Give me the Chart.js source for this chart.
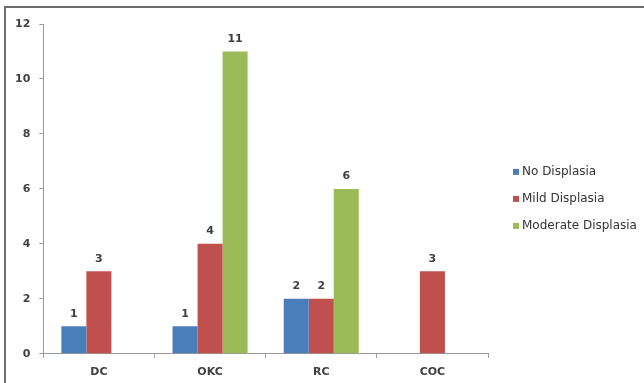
<!DOCTYPE html>
<html>
<head>
<meta charset="utf-8">
<script src="https://cdn.jsdelivr.net/npm/chart.js@4.4.1/dist/chart.umd.min.js"></script>
<style>
  html, body { margin: 0; padding: 0; background: #fff; overflow: hidden; width: 644px; height: 383px; }
  canvas { display: block; }
</style>
</head>
<body>
<canvas id="c" width="644" height="383"></canvas>
<script>
const categories = ["DC", "OKC", "RC", "COC"];
const seriesNames = ["No Displasia", "Mild Displasia", "Moderate Displasia"];
const noDisplasia = [1, 1, 2, null];
const mildDisplasia = [3, 4, 2, 3];
const moderateDisplasia = [null, 11, 6, null];
const yTicks = [0, 2, 4, 6, 8, 10, 12];
const colors = ["#4a7ebb", "#c0504d", "#9bbb59"];

const FONT = "'DejaVu Sans', sans-serif";

const frame = {
  id: "frame",
  beforeDraw(chart) {
    const ctx = chart.ctx;
    ctx.save();
    ctx.strokeStyle = "#6e6e6e";
    ctx.lineWidth = 2;
    ctx.beginPath();
    ctx.moveTo(5, chart.height);
    ctx.lineTo(5, 7);
    ctx.lineTo(chart.width, 7);
    ctx.stroke();
    ctx.restore();
  }
};

const valueLabels = {
  id: "valueLabels",
  afterDatasetsDraw(chart) {
    const ctx = chart.ctx;
    ctx.save();
    ctx.font = "bold 11px " + FONT;
    ctx.fillStyle = "#404040";
    ctx.textAlign = "center";
    ctx.textBaseline = "bottom";
    chart.data.datasets.forEach((ds, i) => {
      const meta = chart.getDatasetMeta(i);
      meta.data.forEach((el, j) => {
        const v = ds.data[j];
        if (v === null || v === undefined) return;
        ctx.fillText(String(v), el.x, el.y - 7);
      });
    });
    ctx.restore();
  }
};

const sideLegend = {
  id: "sideLegend",
  afterDraw(chart) {
    const ctx = chart.ctx;
    const a = chart.chartArea;
    ctx.save();
    ctx.font = "12px " + FONT;
    ctx.textBaseline = "middle";
    ctx.textAlign = "left";
    const x0 = a.right + 25;
    const yc = (a.top + a.bottom) / 2 + 10;
    const step = 27;
    chart.data.datasets.forEach((ds, i) => {
      const y = yc + (i - 1) * step;
      ctx.fillStyle = ds.backgroundColor;
      ctx.fillRect(x0, y - 3, 6, 6);
      ctx.fillStyle = "#333333";
      ctx.fillText(ds.label, x0 + 9, y);
    });
    ctx.restore();
  }
};

new Chart(document.getElementById("c"), {
  type: "bar",
  data: {
    labels: categories,
    datasets: [
      { label: seriesNames[0], data: noDisplasia, backgroundColor: colors[0] },
      { label: seriesNames[1], data: mildDisplasia, backgroundColor: colors[1] },
      { label: seriesNames[2], data: moderateDisplasia, backgroundColor: colors[2] }
    ]
  },
  options: {
    responsive: false,
    animation: false,
    devicePixelRatio: 1,
    layout: { padding: { left: 6, right: 156, top: 24, bottom: -4 } },
    datasets: { bar: { categoryPercentage: 0.675, barPercentage: 1.0 } },
    plugins: { legend: { display: false }, tooltip: { enabled: false } },
    scales: {
      x: {
        offset: true,
        grid: { offset: true, drawOnChartArea: false, drawTicks: true, tickLength: 4, color: "#9a9a9a" },
        border: { color: "#9a9a9a", width: 1 },
        ticks: { font: { family: FONT, size: 11, weight: "bold" }, color: "#404040", padding: 8 }
      },
      y: {
        min: 0, max: 12,
        afterBuildTicks(scale) { scale.ticks = yTicks.map(v => ({ value: v })); },
        grid: { drawOnChartArea: false, drawTicks: true, tickLength: 4, color: "#9a9a9a" },
        border: { color: "#9a9a9a", width: 1 },
        ticks: { font: { family: FONT, size: 11, weight: "bold" }, color: "#404040", padding: 9 }
      }
    }
  },
  plugins: [frame, valueLabels, sideLegend]
});
</script>
</body>
</html>
